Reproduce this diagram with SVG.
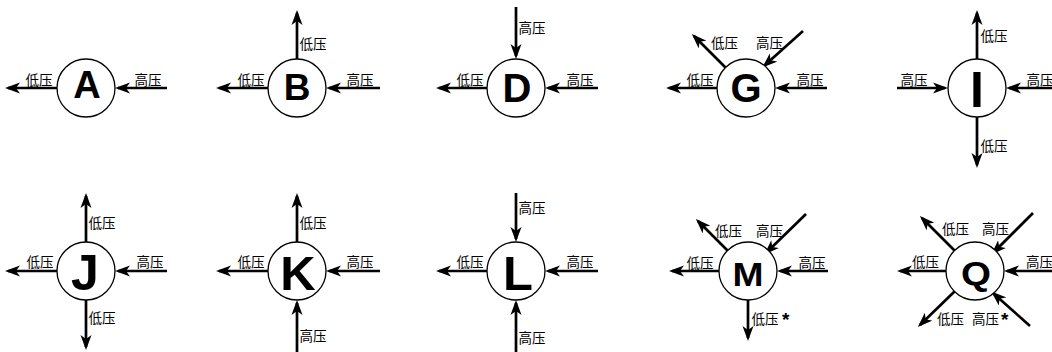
<svg xmlns="http://www.w3.org/2000/svg" width="1052" height="352" viewBox="0 0 1052 352">
<style>
.bg{fill:#fff}
.c{fill:#fff;stroke:#000;stroke-width:1.3}
.l{font-family:"Liberation Sans",Arial,sans-serif;font-weight:bold;text-anchor:middle;fill:#000}
.t{font-family:"Noto Sans CJK SC","Noto Sans",sans-serif;font-size:13.5px;text-anchor:middle;dominant-baseline:central;fill:#000}
.s{font-family:"Liberation Sans",Arial,sans-serif;font-weight:bold;font-size:19px;fill:#000}
.a{stroke:#000;stroke-width:2.7;fill:none;marker-end:url(#ah)}
</style>
<defs>
<marker id="ah" markerUnits="userSpaceOnUse" markerWidth="16" markerHeight="12" refX="12" refY="6" orient="auto" viewBox="0 0 16 12">
<path d="M0,0.5 L15,6 L0,11.5 L4,6 z" fill="#000"/>
</marker>
</defs>
<rect class="bg" x="0" y="0" width="1052" height="352"/>
<g id="connectors">
<path class="a" d="M57,88 L8,88"/>
<path class="a" d="M167,88 L118,88"/>
<path class="a" d="M268,88 L219,88"/>
<path class="a" d="M380,88 L329,88"/>
<path class="a" d="M297,59 L297,13"/>
<path class="a" d="M487,88 L439,88"/>
<path class="a" d="M598,88 L548,88"/>
<path class="a" d="M516,7 L516,56"/>
<path class="a" d="M717,88 L669,88"/>
<path class="a" d="M827,88 L778,88"/>
<path class="a" d="M725.5,67.5 L694,36"/>
<path class="a" d="M803,31 L764.5,65.5"/>
<path class="a" d="M897,88 L945,88"/>
<path class="a" d="M1060,88 L1009,88"/>
<path class="a" d="M977,59 L977,13"/>
<path class="a" d="M977,117 L977,165"/>
<path class="a" d="M57,271 L8,271"/>
<path class="a" d="M167,271 L118,271"/>
<path class="a" d="M86,242 L86,196"/>
<path class="a" d="M86,300 L86,347"/>
<path class="a" d="M268,271 L219,271"/>
<path class="a" d="M380,271 L329,271"/>
<path class="a" d="M297,242 L297,196"/>
<path class="a" d="M297,360 L297,303"/>
<path class="a" d="M487,271 L439,271"/>
<path class="a" d="M598,271 L548,271"/>
<path class="a" d="M516,193 L516,239"/>
<path class="a" d="M516,360 L516,303"/>
<path class="a" d="M719,271 L672,271"/>
<path class="a" d="M828,271 L780,271"/>
<path class="a" d="M727.5,250.5 L698,221"/>
<path class="a" d="M806,214 L766.5,252.5"/>
<path class="a" d="M748,300 L748,338"/>
<path class="a" d="M946,271 L900,271"/>
<path class="a" d="M1060,271 L1007,271"/>
<path class="a" d="M954.5,250.5 L922,218"/>
<path class="a" d="M1033,213 L993.5,252.5"/>
<path class="a" d="M954.5,291.5 L920,325"/>
<path class="a" d="M1030,326 L993.5,293.5"/>
</g>
<g id="node-A">
<circle class="c" cx="86" cy="88" r="29"/>
<text class="l" x="87" y="98" font-size="38">A</text>
<text class="t" x="39" y="78.5">低压</text>
<text class="t" x="148" y="78.5">高压</text>
</g>
<g id="node-B">
<circle class="c" cx="297" cy="88" r="29"/>
<text class="l" x="297" y="100" font-size="37">B</text>
<text class="t" x="251" y="78.5">低压</text>
<text class="t" x="360" y="78.5">高压</text>
<text class="t" x="313" y="43">低压</text>
</g>
<g id="node-D">
<circle class="c" cx="516" cy="88" r="29"/>
<text class="l" x="517" y="102" font-size="40">D</text>
<text class="t" x="470" y="78.5">低压</text>
<text class="t" x="580" y="78.5">高压</text>
<text class="t" x="532" y="27">高压</text>
</g>
<g id="node-G">
<circle class="c" cx="746" cy="88" r="29"/>
<text class="l" x="746" y="102" font-size="40">G</text>
<text class="t" x="700" y="78.5">低压</text>
<text class="t" x="810" y="78.5">高压</text>
<text class="t" x="724.5" y="42">低压</text>
<text class="t" x="769.5" y="42">高压</text>
</g>
<g id="node-I">
<circle class="c" cx="977" cy="88" r="29"/>
<text class="l" x="977" y="107" font-size="50">I</text>
<text class="t" x="914" y="78.5">高压</text>
<text class="t" x="1040" y="78.5">高压</text>
<text class="t" x="994" y="35">低压</text>
<text class="t" x="994" y="145">低压</text>
</g>
<g id="node-J">
<circle class="c" cx="86" cy="271" r="29"/>
<text class="l" x="85" y="290" font-size="50">J</text>
<text class="t" x="40" y="261">低压</text>
<text class="t" x="150" y="261">高压</text>
<text class="t" x="102" y="222">低压</text>
<text class="t" x="102" y="317">低压</text>
</g>
<g id="node-K">
<circle class="c" cx="297" cy="271" r="29"/>
<text class="l" x="298" y="290" font-size="49">K</text>
<text class="t" x="251" y="261">低压</text>
<text class="t" x="360" y="261">高压</text>
<text class="t" x="313" y="222">低压</text>
<text class="t" x="313" y="335">高压</text>
</g>
<g id="node-L">
<circle class="c" cx="516" cy="271" r="29"/>
<text class="l" x="518" y="290" font-size="49">L</text>
<text class="t" x="470" y="261">低压</text>
<text class="t" x="580" y="261">高压</text>
<text class="t" x="532" y="207">高压</text>
<text class="t" x="532" y="337">高压</text>
</g>
<g id="node-M">
<circle class="c" cx="748" cy="271" r="29"/>
<text class="l" x="748" y="286" font-size="34" textLength="31" lengthAdjust="spacingAndGlyphs">M</text>
<text class="t" x="700" y="262">低压</text>
<text class="t" x="812" y="262">高压</text>
<text class="t" x="728.5" y="230">低压</text>
<text class="t" x="769.5" y="230">高压</text>
<text class="t" x="765" y="318">低压</text>
<text class="s" x="782" y="326">*</text>
</g>
<g id="node-Q">
<circle class="c" cx="975" cy="271" r="29"/>
<text class="l" x="976" y="285" font-size="34" textLength="30" lengthAdjust="spacingAndGlyphs">Q</text>
<text class="t" x="955.5" y="228">低压</text>
<text class="t" x="995.5" y="228">高压</text>
<text class="t" x="925.5" y="261">低压</text>
<text class="t" x="1039.5" y="261">高压</text>
<text class="t" x="950.5" y="318">低压</text>
<text class="t" x="985.5" y="318">高压</text>
<text class="s" x="1001" y="326">*</text>
</g>
</svg>
